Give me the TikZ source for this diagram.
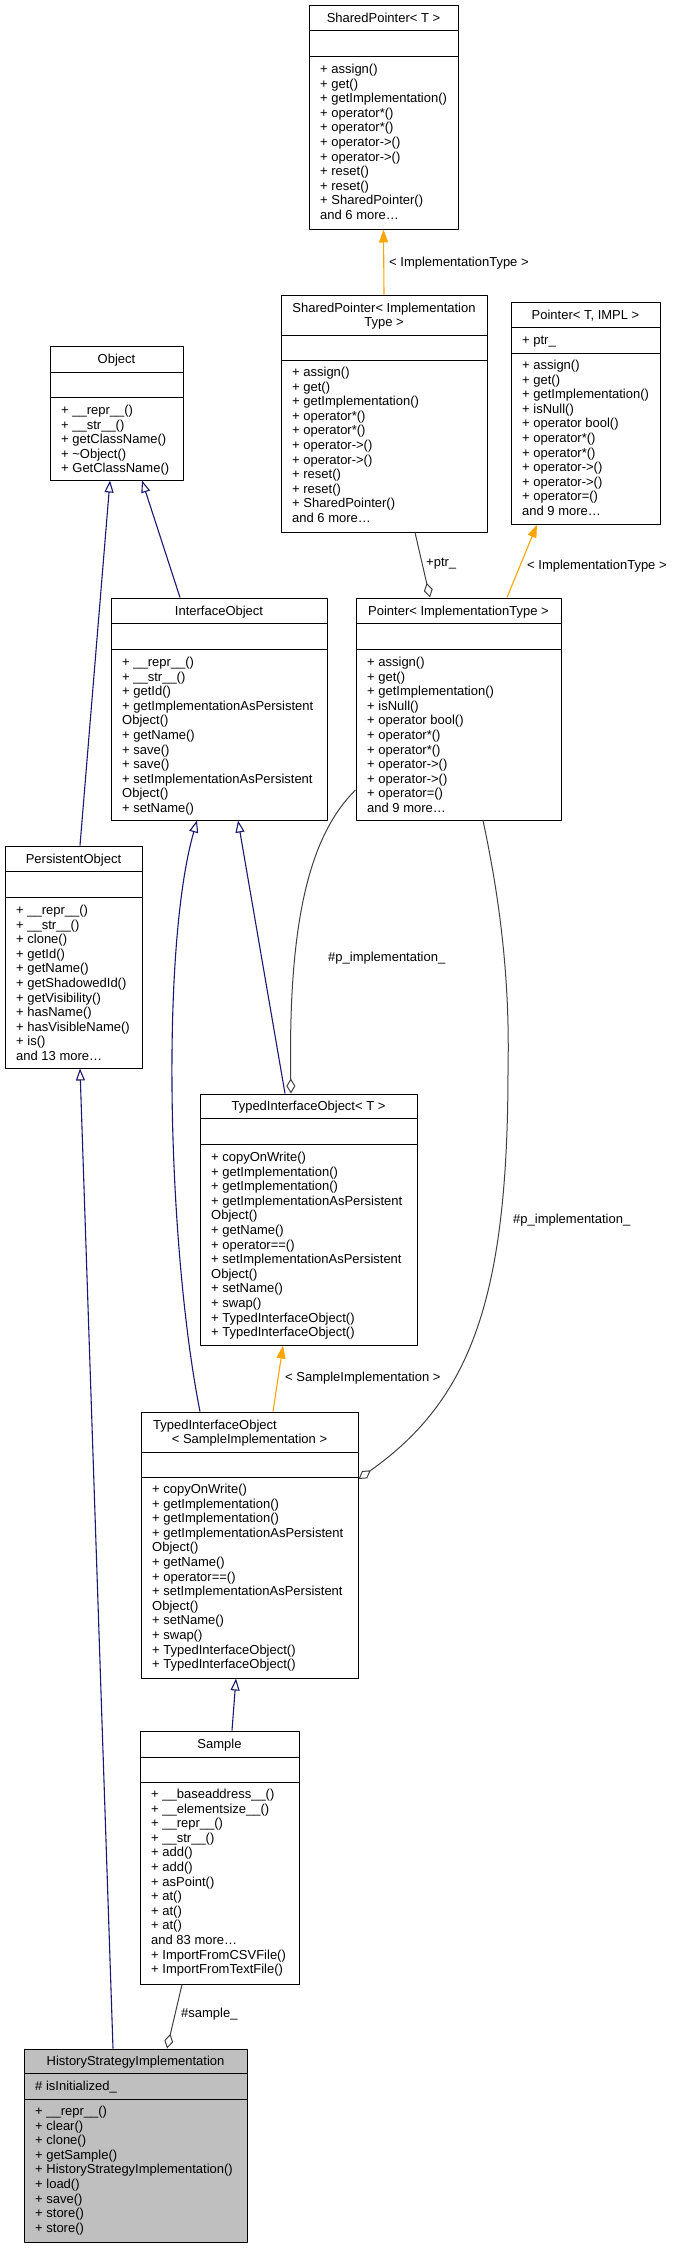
\documentclass[tikz,border=0pt]{standalone}
\usepackage{fontspec}
\setmainfont{Liberation Sans}
\usetikzlibrary{arrows.meta}
\definecolor{inhblue}{HTML}{191970}
\definecolor{tplorange}{HTML}{FFA500}
\definecolor{assocgray}{HTML}{404040}
\definecolor{curfill}{HTML}{BFBFBF}

\begin{document}
\begin{tikzpicture}[x=1pt,y=-1pt,line join=round,
  cls/.style={draw=black,line width=1pt,inner sep=0pt,fill=white},
  txt/.style={inner sep=0pt,font=\fontsize{13}{14}\selectfont,text height=9pt,text depth=0pt},
  mem/.style={txt,anchor=west},
  lbl/.style={txt,anchor=west},
  inh/.style={draw=inhblue,line width=1.1pt,-{Triangle[open,length=12pt,width=9pt]}},
  tpl/.style={draw=tplorange,line width=1.1pt,-{Triangle[length=13pt,width=9pt]}},
  assoc/.style={draw=assocgray,line width=1pt,-{Diamond[open,length=15pt,width=9pt]}}]
  \useasboundingbox (0,0) rectangle (675,2248);

  % SharedPointer< T >
  \node[cls,minimum width=149,minimum height=223] (spT) at (383.5,117.5) {};
  \draw[line width=1pt] (309,31) -- (458,31) (309,57) -- (458,57);
  \node[txt] (spTname) at (383.5,18.5) {SharedPointer< T >};
  \foreach \m [count=\i from 0] in {+ assign(),+ get(),+ getImplementation(),+ operator*(),+ operator*(),+ operator->(),+ operator->(),+ reset(),+ reset(),+ SharedPointer(),and 6 more\ldots}
    \node[mem] at (320,{69+14.6*\i}) {\m};

  % SharedPointer< ImplementationType >
  \node[cls,minimum width=206,minimum height=237] (spImpl) at (384,413.5) {};
  \draw[line width=1pt] (281,335) -- (487,335) (281,360) -- (487,360);
  \node[txt] (spImplname) at (384,308) {SharedPointer< Implementation};
  \node[txt] (spImplname2) at (384,322) {Type >};
  \foreach \m [count=\i from 0] in {+ assign(),+ get(),+ getImplementation(),+ operator*(),+ operator*(),+ operator->(),+ operator->(),+ reset(),+ reset(),+ SharedPointer(),and 6 more\ldots}
    \node[mem] at (292,{372+14.6*\i}) {\m};

  % Pointer< T, IMPL >
  \node[cls,minimum width=149,minimum height=222] (ptrT) at (585.5,413) {};
  \draw[line width=1pt] (511,327) -- (660,327) (511,353) -- (660,353);
  \node[txt] (ptrTname) at (585.5,314.5) {Pointer< T, IMPL >};
  \node[mem] (ptrTattr) at (522,340) {+ ptr\_};
  \foreach \m [count=\i from 0] in {+ assign(),+ get(),+ getImplementation(),+ isNull(),+ operator bool(),+ operator*(),+ operator*(),+ operator->(),+ operator->(),+ operator=(),and 9 more\ldots}
    \node[mem] at (522,{365+14.6*\i}) {\m};

  % Object
  \node[cls,minimum width=133,minimum height=134] (obj) at (116.5,413) {};
  \draw[line width=1pt] (50,372) -- (183,372) (50,397) -- (183,397);
  \node[txt] (objname) at (116.5,359) {Object};
  \foreach \m [count=\i from 0] in {+ \_\_repr\_\_(),+ \_\_str\_\_(),+ getClassName(),+ \textasciitilde Object(),+ GetClassName()}
    \node[mem] at (61,{410+14.6*\i}) {\m};

  % InterfaceObject
  \node[cls,minimum width=216,minimum height=222] (iface) at (219,709) {};
  \draw[line width=1pt] (111,623) -- (327,623) (111,649) -- (327,649);
  \node[txt] (ifacename) at (219,610.5) {InterfaceObject};
  \foreach \m [count=\i from 0] in {+ \_\_repr\_\_(),+ \_\_str\_\_(),+ getId(),+ getImplementationAsPersistent,Object(),+ getName(),+ save(),+ save(),+ setImplementationAsPersistent,Object(),+ setName()}
    \node[mem] at (122,{662+14.6*\i}) {\m};

  % Pointer< ImplementationType >
  \node[cls,minimum width=205,minimum height=222] (ptrImpl) at (458.5,709) {};
  \draw[line width=1pt] (356,623) -- (561,623) (356,649) -- (561,649);
  \node[txt] (ptrImplname) at (458.5,610.5) {Pointer< ImplementationType >};
  \foreach \m [count=\i from 0] in {+ assign(),+ get(),+ getImplementation(),+ isNull(),+ operator bool(),+ operator*(),+ operator*(),+ operator->(),+ operator->(),+ operator=(),and 9 more\ldots}
    \node[mem] at (367,{662+14.6*\i}) {\m};

  % PersistentObject
  \node[cls,minimum width=137,minimum height=222] (pobj) at (73.5,957) {};
  \draw[line width=1pt] (5,871) -- (142,871) (5,897) -- (142,897);
  \node[txt] (pobjname) at (73.5,858.5) {PersistentObject};
  \foreach \m [count=\i from 0] in {+ \_\_repr\_\_(),+ \_\_str\_\_(),+ clone(),+ getId(),+ getName(),+ getShadowedId(),+ getVisibility(),+ hasName(),+ hasVisibleName(),+ is(),and 13 more\ldots}
    \node[mem] at (16,{910+14.6*\i}) {\m};

  % TypedInterfaceObject< T >
  \node[cls,minimum width=217,minimum height=251] (tioT) at (308.5,1219.5) {};
  \draw[line width=1pt] (200,1118) -- (417,1118) (200,1144) -- (417,1144);
  \node[txt] (tioTname) at (308.5,1106) {TypedInterfaceObject< T >};
  \foreach \m [count=\i from 0] in {+ copyOnWrite(),+ getImplementation(),+ getImplementation(),+ getImplementationAsPersistent,Object(),+ getName(),+ operator==(),+ setImplementationAsPersistent,Object(),+ setName(),+ swap(),+ TypedInterfaceObject(),+ TypedInterfaceObject()}
    \node[mem] at (211,{1157+14.6*\i}) {\m};

  % TypedInterfaceObject< SampleImplementation >
  \node[cls,minimum width=217,minimum height=266] (tioS) at (249.5,1545) {};
  \draw[line width=1pt] (141,1452) -- (358,1452) (141,1477) -- (358,1477);
  \node[txt,anchor=west] (tioSname) at (153,1425) {TypedInterfaceObject};
  \node[txt] (tioSname2) at (249.5,1439) {< SampleImplementation >};
  \foreach \m [count=\i from 0] in {+ copyOnWrite(),+ getImplementation(),+ getImplementation(),+ getImplementationAsPersistent,Object(),+ getName(),+ operator==(),+ setImplementationAsPersistent,Object(),+ setName(),+ swap(),+ TypedInterfaceObject(),+ TypedInterfaceObject()}
    \node[mem] at (152,{1489+14.6*\i}) {\m};

  % Sample
  \node[cls,minimum width=159,minimum height=253] (sample) at (219.5,1857.5) {};
  \draw[line width=1pt] (140,1757) -- (299,1757) (140,1782) -- (299,1782);
  \node[txt] (samplename) at (219.5,1744) {Sample};
  \foreach \m [count=\i from 0] in {+ \_\_baseaddress\_\_(),+ \_\_elementsize\_\_(),+ \_\_repr\_\_(),+ \_\_str\_\_(),+ add(),+ add(),+ asPoint(),+ at(),+ at(),+ at(),and 83 more\ldots,+ ImportFromCSVFile(),+ ImportFromTextFile()}
    \node[mem] at (151,{1794+14.6*\i}) {\m};

  % HistoryStrategyImplementation
  \node[cls,fill=curfill,minimum width=223,minimum height=193] (hist) at (135.5,2145.5) {};
  \draw[line width=1pt] (24,2073) -- (247,2073) (24,2099) -- (247,2099);
  \node[txt] (histname) at (135.5,2061) {HistoryStrategyImplementation};
  \node[mem] (histattr) at (35,2086) {\# isInitialized\_};
  \foreach \m [count=\i from 0] in {+ \_\_repr\_\_(),+ clear(),+ clone(),+ getSample(),+ HistoryStrategyImplementation(),+ load(),+ save(),+ store(),+ store()}
    \node[mem] at (35,{2111+14.6*\i}) {\m};

  % template instances
  \draw[tpl] (spImpl.north) -- (spT.south);
  \node[lbl] (lblSp) at (389,262) {< ImplementationType >};
  \draw[tpl] ([xshift=48.5]ptrImpl.north) -- ([xshift=-48.5]ptrT.south);
  \node[lbl] (lblPtr) at (527,565) {< ImplementationType >};
  \draw[tpl] ([xshift=23.5]tioS.north) -- ([xshift=-25.5]tioT.south);
  \node[lbl] (lblTio) at (285,1377) {< SampleImplementation >};

  % inheritance
  \draw[inh] ([xshift=-39]iface.north) -- ([xshift=25.5]obj.south);
  \draw[inh] ([xshift=6.5]pobj.north) -- ([xshift=-6.5]obj.south);
  \draw[inh] ([xshift=-22.5]hist.north) -- ([xshift=6.5]pobj.south);
  \draw[inh] ([xshift=-23.5]tioT.north) -- ([xshift=19]iface.south);
  \draw[inh] ([xshift=-49.5]tioS.north) .. controls (168,1250) and (160,950) .. ([xshift=-22]iface.south);
  \draw[inh] ([xshift=12.5]sample.north) -- ([xshift=-13.5]tioS.south);

  % members
  \draw[assoc] ([xshift=31]spImpl.south) -- ([xshift=-28.5]ptrImpl.north);
  \node[lbl] (lblPtrm) at (426,562) {+ptr\_};
  \draw[assoc] ([yshift=-81]ptrImpl.west) .. controls (310,835) and (288,920) .. ([xshift=-17.5]tioT.north);
  \node[lbl] (lblImplT) at (328,957) {\#p\_implementation\_};
  \draw[assoc] ([xshift=24.5]ptrImpl.south) .. controls (500,900) and (510,980) .. (508,1070)
    .. controls (508,1300) and (470,1400) .. ([yshift=66]tioS.east);
  \node[lbl] (lblImplS) at (513,1219) {\#p\_implementation\_};
  \draw[assoc] ([xshift=-37.5]sample.south) -- ([xshift=31.5]hist.north);
  \node[lbl] (lblSample) at (181,2013) {\#sample\_};
\end{tikzpicture}
\end{document}
